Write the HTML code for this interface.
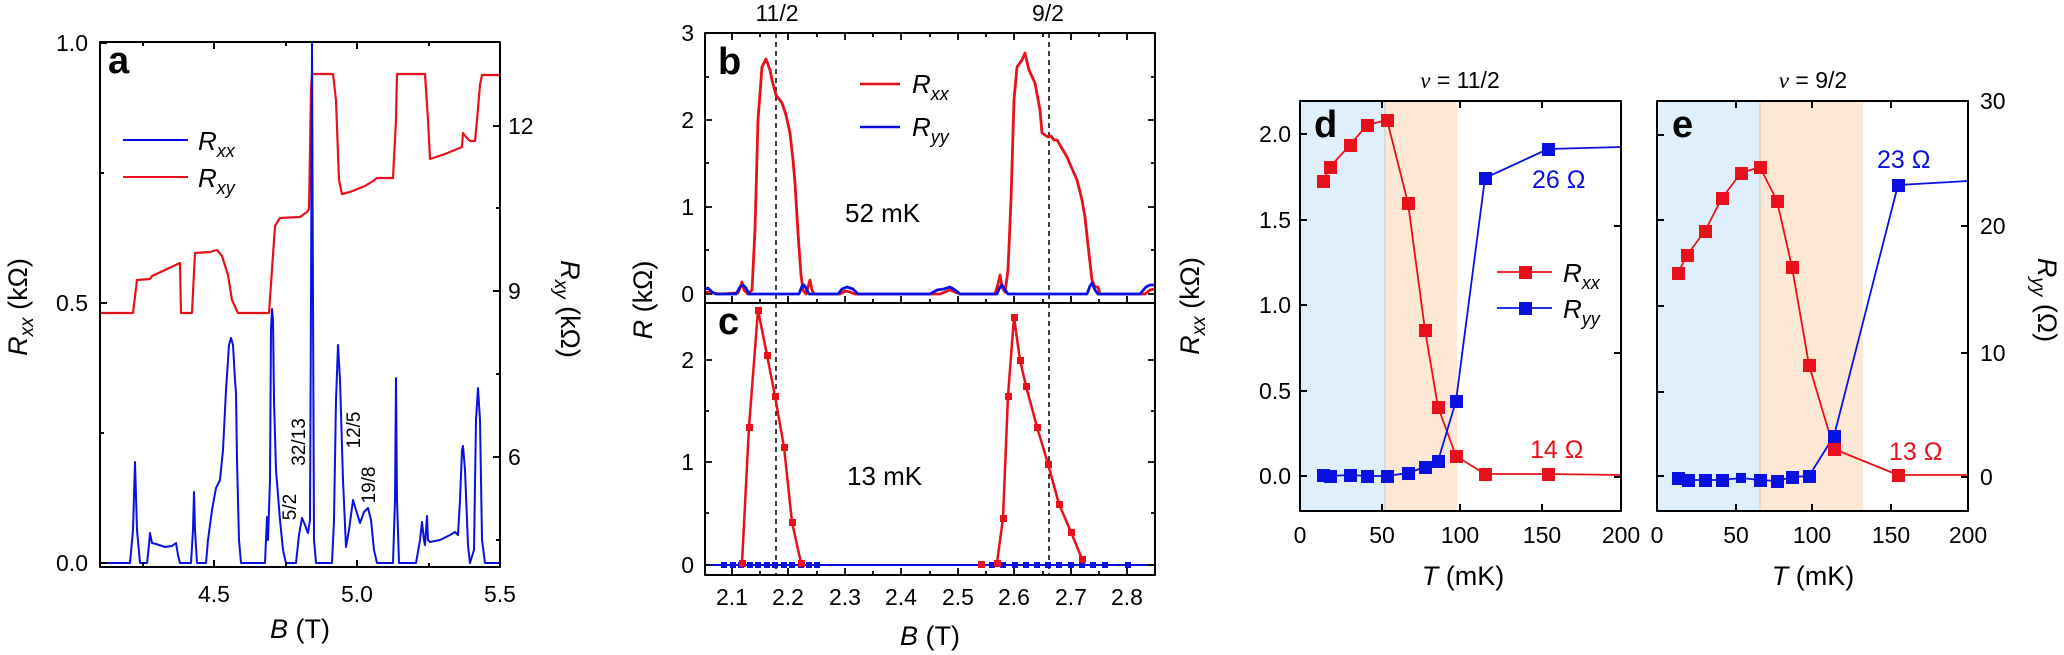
<!DOCTYPE html>
<html><head><meta charset="utf-8"><style>
html,body{margin:0;padding:0;background:#fff;}
svg{display:block;font-family:"Liberation Sans",sans-serif;}
</style></head><body>
<svg width="2064" height="655" viewBox="0 0 2064 655" xmlns="http://www.w3.org/2000/svg">
<g fill="none" stroke-linejoin="round">
<!-- ===== Panel a ===== -->
<polyline stroke="#e8101a" stroke-width="2.2" points="100,313 133,313 137,280 150,279 152,276 180,263 181,313 192,313 195,253 210,252 217,250 222,256 228,275 232,300 238,313 269,313 275,226 280,218 300,217 307,212 309,209 310,152 311,90 312,74 333,74 336,100 339,180 342,194 350,192 360,188 365,186 373,181 377,178 393,178 396,120 397,74 425,74 428,120 430,159 445,154 462,147 463,133 466,137 470,141 475,141 477,120 480,85 482,75 500,75"/>
<polyline stroke="#0a10e0" stroke-width="2" points="100,563 130,563 133,530 135,462 137,530 140,563 147,563 149,545 150,533 152,543 156,544 165,547 172,546 176,543 178,555 180,563 191,563 193,530 194,492 195,530 197,563 206,563 208,540 212,510 216,488 220,480 223,450 226,390 229,345 231,338 233,345 235,380 236,393 237,460 239,540 241,563 265,563 266,540 267,517 268,540 270,480 271,330 272,309 273,320 274,400 276,470 280,520 283,550 286,563 296,563 299,535 302,518 305,525 308,533 310,520 311,300 312,42 313,300 314,540 316,563 332,563 334,520 336,400 338,345 340,380 343,480 346,547 349,530 353,500 356,510 360,523 364,512 368,508 371,520 374,550 377,563 393,563 395,500 396,378 397,500 399,563 416,563 420,540 422,522 424,540 425,545 427,516 428,540 430,542 440,540 450,535 455,532 458,535 460,500 462,450 463,446 465,470 468,545 470,563 474,550 476,420 478,388 480,420 482,540 485,563 500,563"/>
<rect x="100" y="42" width="400" height="525" stroke="#000" stroke-width="2"/>
<path stroke="#000" stroke-width="2" d="M100,563h7M100,303h7M100,43h7M100,433h4M100,173h4M500,457h-7M500,291h-7M500,126h-7M500,540h-4M500,374h-4M500,208h-4M214,567v-7M357,567v-7M143,567v-4M286,567v-4M429,567v-4M214,42v7M357,42v7M143,42v4M286,42v4M429,42v4"/>
<!-- legend a -->
<path stroke="#0a10e0" stroke-width="2" d="M123,140H188"/>
<path stroke="#e8101a" stroke-width="2" d="M123,177H188"/>

<!-- ===== Panel b/c ===== -->
<path stroke="#000" stroke-width="1.5" stroke-dasharray="5,4" d="M776,33V575M1049,33V575"/>
<polyline stroke="#e8101a" stroke-width="2.8" points="705,292 720,294 738,293 740,288 742,282 744,290 748,294 752,290 755,230 758,120 762,67 766,59 770,70 772,80 776,95 782,103 786,115 790,133 793,160 795,183 798,233 801,275 803,290 806,294 808,287 810,280 812,290 814,294 840,294 845,291 850,292 855,294 940,294 950,290 960,294 995,294 998,284 1000,275 1002,287 1005,292 1008,270 1011,200 1014,100 1017,67 1022,60 1025,53 1027,62 1029,70 1035,83 1040,110 1042,133 1048,137 1051,136 1054,140 1057,140 1067,157 1077,180 1082,200 1085,217 1088,245 1092,280 1095,287 1098,287 1100,294 1145,294 1150,290 1155,289"/>
<polyline stroke="#0a10e0" stroke-width="2.8" points="705,289 708,288 712,292 716,294 736,294 740,287 743,285 746,288 749,294 799,294 802,286 804,285 806,288 809,294 838,294 842,289 847,287 853,289 858,294 930,294 937,290 944,289 950,287 955,290 960,294 997,294 1000,287 1002,285 1005,290 1008,294 1087,294 1090,286 1092,283 1095,290 1098,294 1140,294 1146,287 1150,285 1155,285"/>
<path stroke="#e8101a" stroke-width="2.5" d="M860,84H900"/>
<path stroke="#0a10e0" stroke-width="2.5" d="M860,127H900"/>
<!-- c -->
<path stroke="#0a10e0" stroke-width="2" d="M705,565H1155"/>
<polyline stroke="#e8101a" stroke-width="2.5" points="742,563 749,427 758,310 767,355 775,396 784,447 792,522 801,563"/>
<polyline stroke="#e8101a" stroke-width="2.5" points="997,563 1003,518 1008,396 1014,317 1020,360 1026,386 1037,427 1048,464 1059,504 1071,532 1082,559"/>
<g fill="#0a10e0" stroke="none">
<rect x="721" y="562" width="6" height="6"/><rect x="730" y="562" width="6" height="6"/><rect x="738" y="562" width="6" height="6"/><rect x="747" y="562" width="6" height="6"/><rect x="755" y="562" width="6" height="6"/><rect x="764" y="562" width="6" height="6"/><rect x="772" y="562" width="6" height="6"/><rect x="781" y="562" width="6" height="6"/><rect x="789" y="562" width="6" height="6"/><rect x="798" y="562" width="6" height="6"/><rect x="806" y="562" width="6" height="6"/><rect x="814" y="562" width="6" height="6"/>
<rect x="989" y="562" width="6" height="6"/><rect x="1000" y="562" width="6" height="6"/><rect x="1012" y="562" width="6" height="6"/><rect x="1023" y="562" width="6" height="6"/><rect x="1034" y="562" width="6" height="6"/><rect x="1045" y="562" width="6" height="6"/><rect x="1056" y="562" width="6" height="6"/><rect x="1068" y="562" width="6" height="6"/><rect x="1079" y="562" width="6" height="6"/><rect x="1090" y="562" width="6" height="6"/><rect x="1102" y="562" width="6" height="6"/><rect x="1125" y="562" width="6" height="6"/>
</g>
<path stroke="#fff" stroke-width="3" d="M822,565h0M980,565h0"/>
<g fill="#e8101a" stroke="none">
<rect x="746" y="424" width="7" height="7"/><rect x="755" y="307" width="7" height="7"/><rect x="764" y="352" width="7" height="7"/><rect x="772" y="393" width="7" height="7"/><rect x="781" y="444" width="7" height="7"/><rect x="789" y="519" width="7" height="7"/><rect x="739" y="560" width="7" height="7"/><rect x="798" y="560" width="7" height="7"/>
<rect x="978" y="561" width="7" height="7"/><rect x="994" y="560" width="7" height="7"/><rect x="1000" y="515" width="7" height="7"/><rect x="1005" y="393" width="7" height="7"/><rect x="1011" y="314" width="7" height="7"/><rect x="1017" y="357" width="7" height="7"/><rect x="1023" y="383" width="7" height="7"/><rect x="1034" y="424" width="7" height="7"/><rect x="1045" y="461" width="7" height="7"/><rect x="1056" y="501" width="7" height="7"/><rect x="1068" y="529" width="7" height="7"/><rect x="1079" y="556" width="7" height="7"/>
</g>
<rect x="705" y="33" width="450" height="542" stroke="#000" stroke-width="2"/>
<path stroke="#000" stroke-width="2" d="M705,303H1155"/>
<path stroke="#000" stroke-width="1.8" d="M705,294h7M705,207h7M705,120h7M705,250h4M705,163h4M705,77h4M1155,294h-7M1155,207h-7M1155,120h-7M1155,250h-4M1155,163h-4M1155,77h-4M705,565h7M705,462h7M705,360h7M705,513h4M705,411h4M1155,565h-7M1155,462h-7M1155,360h-7M1155,513h-4M1155,411h-4
M732,575v-7M788,575v-7M845,575v-7M901,575v-7M958,575v-7M1014,575v-7M1071,575v-7M1127,575v-7M760,575v-4M817,575v-4M873,575v-4M930,575v-4M986,575v-4M1043,575v-4M1099,575v-4
M732,33v7M788,33v7M845,33v7M901,33v7M958,33v7M1014,33v7M1071,33v7M1127,33v7M760,33v4M817,33v4M873,33v4M930,33v4M986,33v4M1043,33v4M1099,33v4
M732,303v-7M788,303v-7M845,303v-7M901,303v-7M958,303v-7M1014,303v-7M1071,303v-7M1127,303v-7M760,303v-4M817,303v-4M873,303v-4M930,303v-4M986,303v-4M1043,303v-4M1099,303v-4"/>

<!-- ===== Panel d ===== -->
<rect x="1300" y="101" width="85" height="410" fill="#dff0fc" stroke="none"/>
<rect x="1385" y="101" width="72" height="410" fill="#fde8d5" stroke="none"/>
<path stroke="#c8c8c8" stroke-width="1" d="M1385,101V511"/>
<polyline stroke="#e8101a" stroke-width="1.8" points="1323,181 1330,167 1350,145 1367,125 1387,120 1408,203 1425,330 1438,407 1456,456 1485,474 1548,474 1621,475"/>
<polyline stroke="#0a10e0" stroke-width="1.8" points="1323,475 1330,476 1350,475 1367,476 1387,476 1408,473 1425,467 1438,461 1456,401 1485,178 1548,149 1621,147"/>
<g fill="#0a10e0" stroke="none">
<rect x="1317" y="469" width="13" height="13"/><rect x="1324" y="470" width="13" height="13"/><rect x="1344" y="469" width="13" height="13"/><rect x="1361" y="470" width="13" height="13"/><rect x="1381" y="470" width="13" height="13"/><rect x="1402" y="467" width="13" height="13"/><rect x="1419" y="461" width="13" height="13"/><rect x="1432" y="455" width="13" height="13"/><rect x="1450" y="395" width="13" height="13"/><rect x="1479" y="172" width="13" height="13"/><rect x="1542" y="143" width="13" height="13"/>
</g>
<g fill="#e8101a" stroke="none">
<rect x="1317" y="175" width="13" height="13"/><rect x="1324" y="161" width="13" height="13"/><rect x="1344" y="139" width="13" height="13"/><rect x="1361" y="119" width="13" height="13"/><rect x="1381" y="114" width="13" height="13"/><rect x="1402" y="197" width="13" height="13"/><rect x="1419" y="324" width="13" height="13"/><rect x="1432" y="401" width="13" height="13"/><rect x="1450" y="450" width="13" height="13"/><rect x="1479" y="468" width="13" height="13"/><rect x="1542" y="468" width="13" height="13"/>
</g>
<path stroke="#e8101a" stroke-width="1.8" d="M1497,272H1552"/>
<rect x="1519" y="266" width="13" height="13" fill="#e8101a" stroke="none"/>
<path stroke="#0a10e0" stroke-width="1.8" d="M1497,308H1552"/>
<rect x="1519" y="302" width="13" height="13" fill="#0a10e0" stroke="none"/>
<rect x="1300" y="101" width="321" height="410" stroke="#000" stroke-width="2"/>
<path stroke="#000" stroke-width="2" d="M1300,476h7M1300,391h7M1300,305h7M1300,220h7M1300,134h7M1621,477h-7M1621,353h-7M1621,226h-7M1382,511v-7M1460,511v-7M1542,511v-7M1382,101v7M1460,101v7M1542,101v7"/>

<!-- ===== Panel e ===== -->
<rect x="1657" y="101" width="103" height="410" fill="#dff0fc" stroke="none"/>
<rect x="1760" y="101" width="103" height="410" fill="#fde8d5" stroke="none"/>
<path stroke="#c8c8c8" stroke-width="1" d="M1760,101V511"/>
<polyline stroke="#e8101a" stroke-width="1.8" points="1678,273 1687,255 1705,231 1722,198 1741,173 1760,167 1777,201 1792,267 1809,365 1834,449 1898,475 1968,475"/>
<polyline stroke="#0a10e0" stroke-width="1.8" points="1678,478 1688,480 1705,480 1722,480 1741,478 1760,480 1777,481 1792,477 1809,476 1834,436 1898,185 1968,181"/>
<g fill="#0a10e0" stroke="none">
<rect x="1672" y="472" width="13" height="13"/><rect x="1682" y="474" width="13" height="13"/><rect x="1699" y="474" width="13" height="13"/><rect x="1716" y="474" width="13" height="13"/><rect x="1736" y="473" width="10" height="10"/><rect x="1754" y="474" width="13" height="13"/><rect x="1771" y="475" width="13" height="13"/><rect x="1786" y="471" width="13" height="13"/><rect x="1803" y="470" width="13" height="13"/><rect x="1828" y="430" width="13" height="13"/><rect x="1892" y="179" width="13" height="13"/>
</g>
<g fill="#e8101a" stroke="none">
<rect x="1672" y="267" width="13" height="13"/><rect x="1681" y="249" width="13" height="13"/><rect x="1699" y="225" width="13" height="13"/><rect x="1716" y="192" width="13" height="13"/><rect x="1735" y="167" width="13" height="13"/><rect x="1754" y="161" width="13" height="13"/><rect x="1771" y="195" width="13" height="13"/><rect x="1786" y="261" width="13" height="13"/><rect x="1803" y="359" width="13" height="13"/><rect x="1828" y="443" width="13" height="13"/><rect x="1892" y="469" width="13" height="13"/>
</g>
<rect x="1657" y="101" width="311" height="410" stroke="#000" stroke-width="2"/>
<path stroke="#000" stroke-width="2" d="M1657,476h7M1657,392h7M1657,306h7M1657,220h7M1657,135h7M1968,477h-7M1968,353h-7M1968,226h-7M1736,511v-7M1812,511v-7M1891,511v-7M1736,101v7M1812,101v7M1891,101v7"/>
</g>

<!-- ===== Text ===== -->
<g font-size="23" fill="#000">
<!-- a -->
<text x="88" y="51" text-anchor="end">1.0</text>
<text x="88" y="311" text-anchor="end">0.5</text>
<text x="88" y="571" text-anchor="end">0.0</text>
<text x="508" y="134">12</text>
<text x="508" y="299">9</text>
<text x="508" y="465">6</text>
<text x="214" y="602" text-anchor="middle">4.5</text>
<text x="357" y="602" text-anchor="middle">5.0</text>
<text x="500" y="602" text-anchor="middle">5.5</text>
<!-- bc -->
<text x="694" y="41" text-anchor="end">3</text>
<text x="694" y="128" text-anchor="end">2</text>
<text x="694" y="215" text-anchor="end">1</text>
<text x="694" y="302" text-anchor="end">0</text>
<text x="694" y="368" text-anchor="end">2</text>
<text x="694" y="470" text-anchor="end">1</text>
<text x="694" y="573" text-anchor="end">0</text>
<text x="732" y="605" text-anchor="middle">2.1</text>
<text x="788" y="605" text-anchor="middle">2.2</text>
<text x="845" y="605" text-anchor="middle">2.3</text>
<text x="901" y="605" text-anchor="middle">2.4</text>
<text x="958" y="605" text-anchor="middle">2.5</text>
<text x="1014" y="605" text-anchor="middle">2.6</text>
<text x="1071" y="605" text-anchor="middle">2.7</text>
<text x="1127" y="605" text-anchor="middle">2.8</text>
<text x="777" y="21" text-anchor="middle">11/2</text>
<text x="1048" y="21" text-anchor="middle">9/2</text>
<!-- d -->
<text x="1291" y="142" text-anchor="end">2.0</text>
<text x="1291" y="228" text-anchor="end">1.5</text>
<text x="1291" y="313" text-anchor="end">1.0</text>
<text x="1291" y="399" text-anchor="end">0.5</text>
<text x="1291" y="484" text-anchor="end">0.0</text>
<text x="1300" y="543" text-anchor="middle">0</text>
<text x="1382" y="543" text-anchor="middle">50</text>
<text x="1460" y="543" text-anchor="middle">100</text>
<text x="1542" y="543" text-anchor="middle">150</text>
<text x="1621" y="543" text-anchor="middle">200</text>
<!-- e -->
<text x="1657" y="543" text-anchor="middle">0</text>
<text x="1736" y="543" text-anchor="middle">50</text>
<text x="1812" y="543" text-anchor="middle">100</text>
<text x="1891" y="543" text-anchor="middle">150</text>
<text x="1968" y="543" text-anchor="middle">200</text>
<text x="1980" y="109">30</text>
<text x="1980" y="234">20</text>
<text x="1980" y="361">10</text>
<text x="1980" y="485">0</text>
</g>

<!-- rotated fraction labels panel a -->
<g font-size="19" fill="#000">
<text transform="translate(296,507) rotate(-90)" text-anchor="middle">5/2</text>
<text transform="translate(305,442) rotate(-90)" text-anchor="middle">32/13</text>
<text transform="translate(360,430) rotate(-90)" text-anchor="middle">12/5</text>
<text transform="translate(375,485) rotate(-90)" text-anchor="middle">19/8</text>
</g>

<!-- panel letters -->
<g font-size="38" font-weight="bold" fill="#000">
<text x="108" y="73">a</text>
<text x="718" y="74">b</text>
<text x="718" y="334">c</text>
<text x="1314" y="137">d</text>
<text x="1672" y="137">e</text>
</g>

<!-- legends -->
<g font-size="26" fill="#000" font-style="italic">
<text x="198" y="150">R<tspan font-size="18" dy="7">xx</tspan></text>
<text x="198" y="187">R<tspan font-size="18" dy="7">xy</tspan></text>
<text x="912" y="93">R<tspan font-size="18" dy="7">xx</tspan></text>
<text x="912" y="136">R<tspan font-size="18" dy="7">yy</tspan></text>
<text x="1563" y="282">R<tspan font-size="18" dy="7">xx</tspan></text>
<text x="1563" y="318">R<tspan font-size="18" dy="7">yy</tspan></text>
</g>

<g font-size="26" fill="#000">
<text x="845" y="222">52 mK</text>
<text x="847" y="485">13 mK</text>
</g>
<g font-size="25">
<text x="1532" y="188" fill="#0a10e0">26 Ω</text>
<text x="1530" y="458" fill="#e8101a">14 Ω</text>
<text x="1877" y="168" fill="#0a10e0">23 Ω</text>
<text x="1889" y="460" fill="#e8101a">13 Ω</text>
</g>

<!-- titles -->
<g font-size="23" fill="#000">
<text x="1460" y="88" text-anchor="middle"><tspan font-family="Liberation Serif, serif" font-style="italic">ν</tspan> = 11/2</text>
<text x="1813" y="88" text-anchor="middle"><tspan font-family="Liberation Serif, serif" font-style="italic">ν</tspan> = 9/2</text>
</g>

<!-- axis titles -->
<g font-size="27" fill="#000">
<text x="300" y="638" text-anchor="middle"><tspan font-style="italic">B</tspan> (T)</text>
<text x="930" y="645" text-anchor="middle"><tspan font-style="italic">B</tspan> (T)</text>
<text x="1463" y="585" text-anchor="middle"><tspan font-style="italic">T</tspan> (mK)</text>
<text x="1813" y="585" text-anchor="middle"><tspan font-style="italic">T</tspan> (mK)</text>
<text transform="translate(27,307) rotate(-90)" text-anchor="middle"><tspan font-style="italic">R</tspan><tspan font-style="italic" font-size="19" dy="6">xx</tspan><tspan dy="-6"> (kΩ)</tspan></text>
<text transform="translate(561,309) rotate(90)" text-anchor="middle"><tspan font-style="italic">R</tspan><tspan font-style="italic" font-size="19" dy="6">xy</tspan><tspan dy="-6"> (kΩ)</tspan></text>
<text transform="translate(652,300) rotate(-90)" text-anchor="middle"><tspan font-style="italic">R</tspan> (kΩ)</text>
<text transform="translate(1199,306) rotate(-90)" text-anchor="middle"><tspan font-style="italic">R</tspan><tspan font-style="italic" font-size="19" dy="6">xx</tspan><tspan dy="-6"> (kΩ)</tspan></text>
<text transform="translate(2038,300) rotate(90)" text-anchor="middle"><tspan font-style="italic">R</tspan><tspan font-style="italic" font-size="19" dy="6">yy</tspan><tspan dy="-6"> (Ω)</tspan></text>
</g>
</svg>
</body></html>
